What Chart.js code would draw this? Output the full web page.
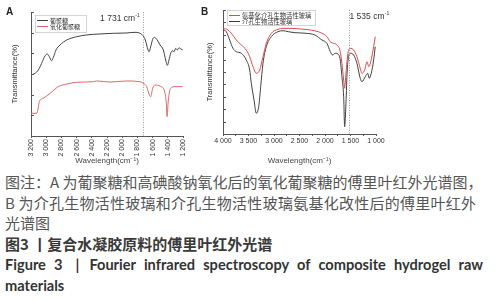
<!DOCTYPE html>
<html lang="zh-CN">
<head>
<meta charset="utf-8">
<title>图3 复合水凝胶原料的傅里叶红外光谱</title>
<script src="https://cdn.jsdelivr.net/npm/chart.js@4.4.0/dist/chart.umd.min.js"></script>
<style>
  html, body { margin: 0; padding: 0; background: #fff; }
  body { position: relative; width: 497px; height: 300px; overflow: hidden; font-family: "Noto Sans CJK SC", sans-serif; }
  canvas { position: absolute; top: 0; }
  #chartA { left: 0; }
  #chartB { left: 195px; }
  .tag { position: absolute; top: 6px; font: bold 10px "Liberation Sans", Arial, sans-serif; color: #222; }
  .cap { position: absolute; left: 5px; height: 20px; line-height: 20px; font-size: 15px; color: #555; white-space: nowrap; }
  .just { text-align: justify; text-align-last: justify; }
  .fig { font-weight: 700; color: #3a3a3a; }
  .en { font-family: Lato, "Open Sans", sans-serif; font-weight: 700; font-size: 14.6px; color: #333; }
</style>
</head>
<body>
<canvas id="chartA" width="195" height="170"></canvas>
<canvas id="chartB" width="205" height="170"></canvas>
<div class="tag" style="left:6px">A</div>
<div class="tag" style="left:201px">B</div>

<div class="cap just" style="top:172px;width:476px">图注：A 为葡聚糖和高碘酸钠氧化后的氧化葡聚糖的傅里叶红外光谱图，</div>
<div class="cap just" style="top:193px;width:471px">B 为介孔生物活性玻璃和介孔生物活性玻璃氨基化改性后的傅里叶红外</div>
<div class="cap" style="top:213px">光谱图</div>
<div class="cap fig" style="top:234px">图3 丨复合水凝胶原料的傅里叶红外光谱</div>
<div class="cap en just" style="top:255px;width:478px">Figure 3<span style="display:inline-block;width:13px"></span>|<span style="display:inline-block;width:10px"></span>Fourier infrared spectroscopy of composite hydrogel raw</div>
<div class="cap en" style="top:276px">materials</div>

<script>
// Panel A: dextran vs. oxidized dextran (arbitrary transmittance units)
const dextranX = [3200, 3147, 3104, 3060, 3016, 2985, 2959, 2928, 2906, 2871, 2818, 2730, 2599, 2467, 2292, 2117, 1941, 1831, 1775, 1730, 1696, 1660, 1647, 1625, 1599, 1577, 1546, 1502, 1459, 1428, 1406, 1384, 1362, 1340, 1318, 1296, 1275, 1252, 1230, 1204];
const dextranY = [49.2, 50.5, 53.2, 58.6, 64.5, 66.1, 64, 60.7, 63.4, 69.4, 73.4, 77.4, 80.1, 81.5, 82.3, 82.8, 83.1, 83.6, 83.1, 81.2, 77.4, 69.4, 68, 72, 78, 79.6, 78, 73.4, 69.4, 61.3, 57, 61.3, 66.7, 68.8, 68, 70.7, 69.4, 71.2, 70.2, 69.4];
const oxDextranX = [3200, 3125, 3104, 3091, 3038, 2950, 2841, 2730, 2599, 2380, 2336, 2160, 1941, 1766, 1722, 1678, 1643, 1625, 1599, 1568, 1502, 1436, 1418, 1410, 1393, 1362, 1305, 1204];
const oxDextranY = [18.3, 18.3, 22.6, 27.7, 30.4, 34.4, 39.8, 41.9, 43.3, 43.8, 44.4, 43.5, 44.4, 43.8, 42.5, 39.8, 33.1, 31.7, 38.5, 41.1, 40.3, 34.4, 25, 15.6, 29, 38.5, 39.8, 39.8];

// Panel B: aminated mesoporous bioactive glass vs. mesoporous bioactive glass
const aminoBgX = [4000, 3902, 3837, 3739, 3641, 3543, 3477, 3412, 3347, 3281, 3216, 3151, 3053, 2922, 2824, 2720, 2393, 2132, 2060, 1962, 1897, 1830, 1766, 1701, 1668, 1634, 1615, 1589, 1550, 1505, 1438, 1374, 1309, 1276, 1223, 1176, 1142, 1103, 1046, 1015];
const aminoBgY = [85.2, 83.9, 81.2, 75.8, 71.8, 67.7, 62.3, 54.3, 49, 51.6, 62.3, 73.1, 81.2, 84.4, 85.2, 85.2, 84.4, 82.5, 81.2, 78.5, 74.4, 73.1, 71.8, 66.4, 56.9, 43.5, 36.9, 49, 65.1, 69.1, 67.7, 62.3, 53, 49, 51.6, 58.3, 54.3, 58.3, 70.4, 78.5];
const mesoBgX = [4000, 3935, 3869, 3804, 3739, 3641, 3543, 3477, 3445, 3392, 3347, 3300, 3261, 3216, 3151, 3053, 2922, 2824, 2720, 2589, 2393, 2197, 2060, 1962, 1897, 1850, 1799, 1746, 1701, 1668, 1634, 1615, 1589, 1564, 1505, 1438, 1374, 1309, 1276, 1211, 1164, 1133, 1093, 1046, 1015];
const mesoBgY = [83.9, 82.5, 75.8, 69.1, 66.4, 65.1, 59.7, 51.6, 40.9, 27.4, 16.7, 22, 38.1, 57, 70.4, 78.5, 82.5, 83.3, 82.5, 81.7, 81.3, 79.8, 75.8, 73.1, 66.4, 63.7, 65.1, 64.5, 59.7, 46.2, 30.1, 5.9, 24.8, 51.6, 65.1, 63.7, 57, 44.9, 42.2, 46.2, 49, 44.9, 49, 59.7, 70.4];

// tick labels and marked bands
const ticksA = [3200, 3000, 2800, 2600, 2400, 2200, 2000, 1800, 1600, 1400, 1200];
const ticksB = [4000, 3500, 3000, 2500, 2000, 1500, 1000];
const markA = 1731;
const markB = 1535;

const pairs = (xs, ys) => xs.map((x, i) => ({ x: x, y: ys[i] }));
const fmt = v => v >= 1000 ? Math.floor(v / 1000) + ' ' + String(v % 1000).padStart(3, '0') : String(v);

// dotted marker line + "xxxx cm-1" label
const markerPlugin = {
    id: 'marker',
    afterDatasetsDraw(chart, args, o) {
        const { ctx, chartArea, scales } = chart;
        const x = Math.round(scales.x.getPixelForValue(o.value)) + 0.5;
        ctx.save();
        ctx.strokeStyle = '#9a9a9a';
        ctx.lineWidth = 1;
        ctx.setLineDash([1, 1.5]);
        ctx.beginPath();
        ctx.moveTo(x, chartArea.top);
        ctx.lineTo(x, chartArea.bottom);
        ctx.stroke();
        ctx.setLineDash([]);

        const main = fmt(o.value) + ' cm';
        const big = '8.5px "Liberation Sans", Arial, sans-serif';
        const small = '5px "Liberation Sans", Arial, sans-serif';
        ctx.font = big;
        const w1 = ctx.measureText(main).width;
        ctx.font = small;
        const w2 = ctx.measureText('-1').width;
        const left = o.side === 'left' ? x - o.gap - w1 - w2 : x + o.gap;
        ctx.fillStyle = '#333';
        ctx.textBaseline = 'middle';
        ctx.font = big;
        ctx.fillText(main, left, o.y);
        ctx.font = small;
        ctx.fillText('-1', left + w1 + 0.3, o.y - 3);
        ctx.restore();
    }
};

// small boxed legend inside the plot
const boxLegend = {
    id: 'boxLegend',
    afterDraw(chart, args, o) {
        const { ctx } = chart;
        ctx.save();
        ctx.fillStyle = '#fff';
        ctx.fillRect(o.x, o.y, o.w, o.h);
        ctx.strokeStyle = '#d4d4d4';
        ctx.lineWidth = 1;
        ctx.strokeRect(o.x + 0.5, o.y + 0.5, o.w, o.h);
        ctx.font = o.size + 'px "Noto Sans CJK SC", sans-serif';
        ctx.textBaseline = 'middle';
        chart.data.datasets.forEach((ds, i) => {
            const yy = Math.round(o.y + o.first + i * o.gap) + 0.5;
            ctx.strokeStyle = chart.getDatasetMeta(i).dataset.options.borderColor;
            ctx.beginPath();
            ctx.moveTo(o.x + 2, yy);
            ctx.lineTo(o.x + 13, yy);
            ctx.stroke();
            ctx.fillStyle = '#333';
            ctx.fillText(ds.label, o.x + 15, yy);
        });
        ctx.restore();
    }
};

// y tick marks pointing into the plot
const inTicks = {
    id: 'inTicks',
    afterDraw(chart) {
        const { ctx, chartArea, scales } = chart;
        const y = scales.y;
        ctx.save();
        ctx.strokeStyle = '#555';
        ctx.lineWidth = 1;
        y.ticks.forEach((t, i) => {
            const py = Math.round(y.getPixelForTick(i)) + 0.5;
            ctx.beginPath();
            ctx.moveTo(chartArea.left, py);
            ctx.lineTo(chartArea.left + 3, py);
            ctx.stroke();
        });
        ctx.restore();
    }
};

function spectrumOptions(cfg) {
    return {
        responsive: false,
        animation: false,
        layout: { padding: cfg.padding },
        elements: {
            point: { radius: 0 },
            line: { borderWidth: 1, cubicInterpolationMode: 'monotone' }
        },
        plugins: {
            legend: { display: false },
            tooltip: { enabled: false },
            marker: cfg.marker,
            boxLegend: cfg.legend
        },
        scales: {
            x: {
                type: 'linear',
                reverse: true,
                min: cfg.min,
                max: cfg.max,
                afterBuildTicks: s => { s.ticks = cfg.ticks.map(v => ({ value: v })); },
                afterFit: s => { s.height = cfg.xHeight; },
                ticks: {
                    autoSkip: false,
                    minRotation: cfg.rot,
                    maxRotation: cfg.rot,
                    padding: 1,
                    color: '#333',
                    font: { family: '"Liberation Sans", Arial, sans-serif', size: 7 },
                    callback: v => cfg.major.includes(v) ? fmt(v) : ''
                },
                grid: { drawOnChartArea: false, tickLength: 2, color: '#555' },
                border: { color: '#555' },
                title: {
                    display: true,
                    text: 'Wavelength(cm⁻¹)',
                    color: '#444',
                    font: { family: '"Liberation Sans", Arial, sans-serif', size: 8 },
                    padding: { top: 0, bottom: 4 }
                }
            },
            y: {
                min: 0,
                max: 100,
                afterFit: s => { s.width = cfg.yWidth; },
                ticks: { display: false, count: cfg.yCount },
                grid: { drawOnChartArea: false, drawTicks: false, color: '#555' },
                border: { color: '#555' },
                title: {
                    display: true,
                    text: 'Transmittance(%)',
                    color: '#333',
                    font: { family: '"Liberation Sans", Arial, sans-serif', size: 7.5 },
                    padding: { top: 10.5, bottom: 0 }
                }
            }
        }
    };
}

new Chart(document.getElementById('chartA'), {
    type: 'line',
    data: {
        datasets: [
            { label: '葡聚糖', data: pairs(dextranX, dextranY), borderColor: '#404040' },
            { label: '氧化葡聚糖', data: pairs(oxDextranX, oxDextranY), borderColor: '#e06666' }
        ]
    },
    options: spectrumOptions({
        padding: { left: 0, top: 12, right: 12, bottom: 0 },
        min: 1200, max: 3200,
        ticks: ticksA, major: ticksA, rot: 90,
        xHeight: 34, yWidth: 31, yCount: 7,
        marker: { value: markA, side: 'left', gap: 4, y: 19 },
        legend: { x: 35, y: 15, w: 51, h: 17, first: 4.5, gap: 6.5, size: 6 }
    }),
    plugins: [markerPlugin, boxLegend, inTicks]
});

// half-step minor ticks between the labelled ones
const ticksBAll = [];
ticksB.forEach((v, i) => {
    ticksBAll.push(v);
    if (i < ticksB.length - 1) ticksBAll.push((v + ticksB[i + 1]) / 2);
});

new Chart(document.getElementById('chartB'), {
    type: 'line',
    data: {
        datasets: [
            { label: '氨基化介孔生物活性玻璃', data: pairs(aminoBgX, aminoBgY), borderColor: '#dd4a4a' },
            { label: '介孔生物活性玻璃', data: pairs(mesoBgX, mesoBgY), borderColor: '#404040' }
        ]
    },
    options: spectrumOptions({
        padding: { left: 0, top: 10, right: 24, bottom: 0 },
        min: 1000, max: 4000,
        ticks: ticksBAll, major: ticksB, rot: 0,
        xHeight: 36, yWidth: 28, yCount: 11,
        marker: { value: markB, side: 'right', gap: 0, y: 17 },
        legend: { x: 32, y: 10, w: 88, h: 15, first: 5, gap: 5.7, size: 6.3 }
    }),
    plugins: [markerPlugin, boxLegend, inTicks]
});
</script>
</body>
</html>
